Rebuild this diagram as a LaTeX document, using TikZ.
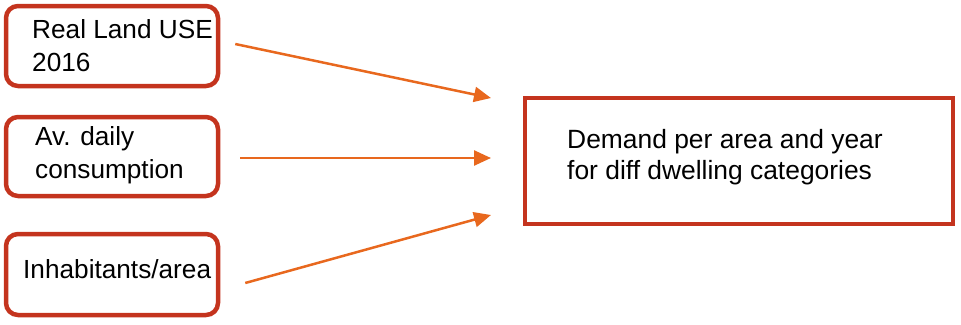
\documentclass[tikz,border=0pt]{standalone}
\usepackage{fontspec}
\setmainfont{Liberation Sans}
\usetikzlibrary{arrows.meta}
\definecolor{boxred}{RGB}{196,52,30}
\definecolor{arrorange}{RGB}{232,104,30}
\begin{document}
\begin{tikzpicture}[x=1pt,y=-1pt,
  inbox/.style={draw=boxred,line width=4.5pt,rounded corners=12pt,minimum width=212pt,inner sep=0pt},
  outbox/.style={draw=boxred,line width=4pt,minimum width=428pt,minimum height=126pt,inner sep=0pt},
  lbl/.style={anchor=base west,inner sep=0pt,align=left,font=\fontsize{26.2}{33}\selectfont},
  biglbl/.style={anchor=base west,inner sep=0pt,align=left,font=\fontsize{26.4}{31}\selectfont},
  arr/.style={draw=arrorange,line width=2.5pt,-{Triangle[length=17pt,width=15pt]}}]
\useasboundingbox (0,0) rectangle (961,324);
\node[inbox,minimum height=80pt] (b1) at (112,46) {};
\node[inbox,minimum height=79pt] (b2) at (112,156.5) {};
\node[inbox,minimum height=81pt] (b3) at (112,274.5) {};
\node[outbox] (big) at (739,161) {};
\node[lbl] (t1) at (32,71.5) {Real Land USE\\2016};
\node[lbl] (t2) at (35,178) {Av. daily\\consumption};
\node[lbl] (t3) at (23,278) {Inhabitants/area};
\node[biglbl] (t4) at (567,179) {Demand per area and year\\for diff dwelling categories};
\draw[arr] ([xshift=15pt,yshift=2pt]b1.east) -- ([xshift=-32pt,yshift=-2pt]big.north west);
\draw[arr] ([xshift=20pt,yshift=-1.5pt]b2.east) -- ([xshift=-32pt,yshift=3pt]big.west);
\draw[arr] ([xshift=25pt,yshift=-8.5pt]b3.east) -- ([xshift=-32pt,yshift=11pt]big.south west);
\end{tikzpicture}
\end{document}
